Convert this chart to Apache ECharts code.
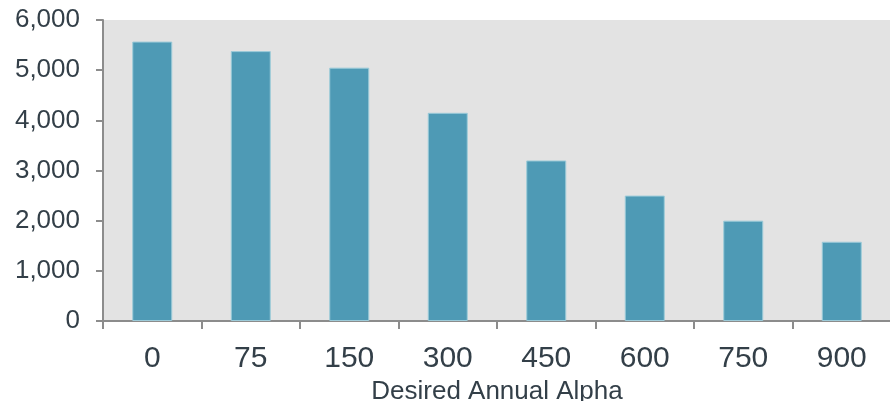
<!DOCTYPE html>
<html><head><meta charset="utf-8">
<script src="https://cdn.jsdelivr.net/npm/echarts@6/dist/echarts.min.js"></script>
<style>html,body{margin:0;padding:0;background:#fff}#c{width:890px;height:401px}</style>
</head><body><div id="c"></div>
<script>
const categories = ['0','75','150','300','450','600','750','900'];
const values = [5570, 5380, 5050, 4150, 3200, 2500, 2000, 1580];
const yTicks = [0, 1000, 2000, 3000, 4000, 5000, 6000];
const xName = 'Desired Annual Alpha';

const chart = echarts.init(document.getElementById('c'));
chart.setOption({
  animation: false,
  grid: {left: 103, top: 20, right: -1, bottom: 80, show: true, backgroundColor: '#e3e3e3', borderWidth: 0,
    containLabel: false, outerBoundsMode: 'none'},
  xAxis: {
    type: 'category', data: categories,
    name: xName, nameLocation: 'middle', nameGap: 56,
    nameTextStyle: {fontFamily: 'Liberation Sans', fontSize: 26, color: '#333f48'},
    axisLine: {lineStyle: {color: '#8c8c8c', width: 2}},
    axisTick: {show: true, length: 8, lineStyle: {color: '#8c8c8c', width: 2}},
    axisLabel: {fontFamily: 'Liberation Sans', fontSize: 30, color: '#333f48', margin: 23}
  },
  yAxis: {
    type: 'value', min: yTicks[0], max: yTicks[yTicks.length-1], interval: 1000,
    splitLine: {show: false},
    axisLine: {show: true, lineStyle: {color: '#8c8c8c', width: 2}},
    axisTick: {show: true, length: 7, lineStyle: {color: '#8c8c8c', width: 2}},
    axisLabel: {fontFamily: 'Liberation Sans', fontSize: 26, color: '#333f48', margin: 23,
      formatter: v => v.toLocaleString('en-US')}
  },
  series: [{
    type: 'bar', data: values, barWidth: 40,
    itemStyle: {color: '#4e9ab5', borderColor: '#9ccbd9', borderWidth: 1}
  }]
});
</script></body></html>
